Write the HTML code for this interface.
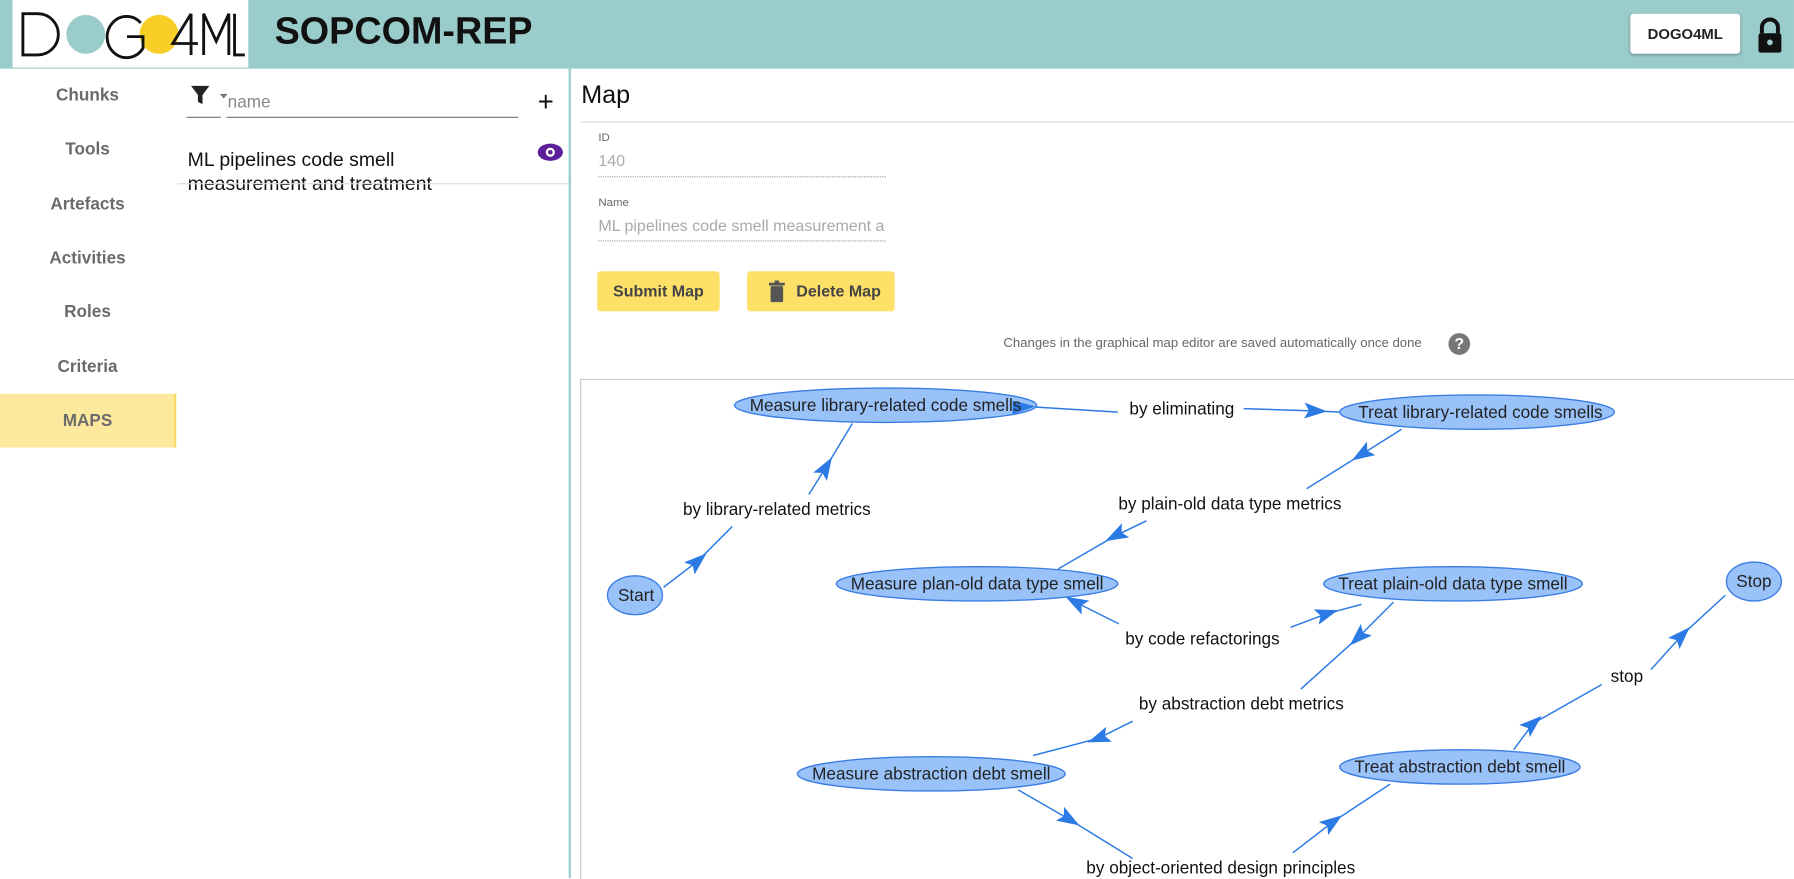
<!DOCTYPE html>
<html><head><meta charset="utf-8"><style>
html,body{margin:0;padding:0;width:1794px;height:878px;overflow:hidden;background:#fff;font-family:"Liberation Sans",sans-serif}
#w{position:absolute;left:0;top:0;width:1568px;height:767px;transform:scale(1.1441,1.1447);transform-origin:0 0}
.a{position:absolute}
.nav{position:absolute;left:0;width:153px;text-align:center;font-size:15px;color:#6b6b6b;font-weight:bold}
</style></head><body><div id="w">
<div class="a" style="left:0;top:0;width:1568px;height:60px;background:#9bcccc"></div>
<div class="a" style="left:11px;top:0;width:206px;height:59px;background:#fff"></div>
<svg class="a" style="left:15px;top:8px" width="200" height="44">
<circle cx="60" cy="22" r="17" fill="#9bcccc"/><circle cx="124" cy="22" r="17" fill="#f7cf26"/>
<g fill="none" stroke="#111" stroke-width="2.5">
<path d="M5 4 V40 H18 A18 18 0 0 0 18 4 Z"/>
<path d="M108 12 A17 18 0 1 0 110 34 V24 H96"/>
<path d="M152 4 L136 30 H158 M152 4 V40"/>
<path d="M163 40 V4 L174 28 L185 4 V40"/>
<path d="M190 4 V40 H199"/>
</g></svg>
<div class="a" style="left:240px;top:8px;font-size:33px;font-weight:bold;color:#111">SOPCOM-REP</div>
<div class="a" style="left:1425px;top:12px;width:96px;height:35px;background:#fff;border-radius:3px;box-shadow:0 1px 3px rgba(0,0,0,.3);font-size:13px;font-weight:bold;line-height:35px;text-align:center;color:#222">DOGO4ML</div>
<svg class="a" style="left:1535px;top:14px" width="24" height="34"><path d="M5 15 V10 a7 7 0 0 1 14 0 V15" stroke="#111" stroke-width="3.5" fill="none"/><rect x="2" y="15" width="20" height="17" rx="2" fill="#111"/><circle cx="12" cy="23" r="2.5" fill="#9bcccc"/></svg>
<div class="nav" style="top:75px">Chunks</div><div class="nav" style="top:122px">Tools</div><div class="nav" style="top:170px">Artefacts</div><div class="nav" style="top:217px">Activities</div><div class="nav" style="top:264px">Roles</div><div class="nav" style="top:312px">Criteria</div>
<div class="a" style="left:0;top:344px;width:152px;height:47px;background:#fde99e;border-right:2px solid #f7d96a"></div>
<div class="nav" style="top:359px">MAPS</div>
<svg class="a" style="left:166px;top:74px" width="40" height="20"><path d="M1 1 H17 L11 9 V17 L7 15 V9 Z" fill="#222"/><path d="M26 8 h7 l-3.5 4z" fill="#777"/></svg>
<div class="a" style="left:163px;top:102px;width:30px;border-top:1px solid #777"></div>
<div class="a" style="left:199px;top:81px;font-size:15px;color:#888">name</div>
<div class="a" style="left:198px;top:102px;width:255px;border-top:1px solid #777"></div>
<div class="a" style="left:470px;top:76px;font-size:24px;color:#111">+</div>
<div class="a" style="left:164px;top:129px;font-size:17px;color:#111;line-height:21px">ML pipelines code smell<br>measurement and treatment</div>
<div class="a" style="left:155px;top:160px;width:342px;border-top:1px solid #ddd"></div>
<svg class="a" style="left:469px;top:124px" width="24" height="18"><ellipse cx="12" cy="9" rx="11" ry="7.5" fill="#5b1f99"/><circle cx="12" cy="9" r="4" fill="#fff"/><circle cx="12" cy="9" r="2" fill="#5b1f99"/></svg>
<div class="a" style="left:497px;top:60px;width:2px;height:707px;background:#9bcccc"></div>
<div class="a" style="left:508px;top:70px;font-size:22px;color:#111">Map</div>
<div class="a" style="left:507px;top:106px;width:1061px;border-top:1px solid #ddd"></div>
<div class="a" style="left:523px;top:115px;font-size:10px;color:#666">ID</div>
<div class="a" style="left:523px;top:132px;font-size:14px;color:#aaa">140</div>
<div class="a" style="left:523px;top:154px;width:251px;border-top:1px dotted #999"></div>
<div class="a" style="left:523px;top:172px;font-size:10px;color:#666">Name</div>
<div class="a" style="left:523px;top:189px;width:251px;overflow:hidden;white-space:nowrap;font-size:14px;color:#aaa">ML pipelines code smell measurement and treatment</div>
<div class="a" style="left:523px;top:210px;width:251px;border-top:1px dotted #999"></div>
<div class="a" style="left:522px;top:237px;width:107px;height:35px;background:#fde068;border-radius:3px;font-size:14px;line-height:35px;text-align:center;color:#444;font-weight:bold">Submit Map</div>
<div class="a" style="left:653px;top:237px;width:129px;height:35px;background:#fde068;border-radius:3px;font-size:14px;line-height:35px;color:#444;font-weight:bold"><svg style="position:absolute;left:19px;top:8px" width="14" height="19"><rect x="0" y="2" width="14" height="2.5" fill="#555"/><rect x="5" y="0" width="4" height="3" fill="#555"/><rect x="1.5" y="5" width="11" height="14" rx="1.5" fill="#555"/></svg><span style="position:absolute;left:43px">Delete Map</span></div>
<div class="a" style="left:877px;top:294px;font-size:11.5px;color:#666">Changes in the graphical map editor are saved automatically once done</div>
<div class="a" style="left:1266px;top:291px;width:19px;height:19px;border-radius:50%;background:#777;color:#fff;font-size:14px;font-weight:bold;text-align:center;line-height:19px">?</div>
<div class="a" style="left:507px;top:331px;width:1061px;height:436px;border-top:1px solid #ccc;border-left:1px solid #ccc"></div>
<svg class="a" style="left:0;top:0" width="1568" height="767" font-family="Liberation Sans" font-size="15">
<defs><marker id="m" markerWidth="20" markerHeight="14" refX="10" refY="7" orient="auto" markerUnits="userSpaceOnUse"><path d="M0 0 L20 7 L0 14 L4 7Z" fill="#2c7be5"/></marker></defs>
<g stroke="#2c7be5" stroke-width="1.3" fill="none" marker-mid="url(#m)">
<path d="M580 513 L610 490 L640 460"/>
<path d="M707 432 L722 408 L745 370"/>
<path d="M870 355 L895 355 L977 360"/>
<path d="M1087 357 L1150 359 L1172 360"/>
<path d="M1225 375 L1190 397 L1142 427"/>
<path d="M1002 455 L975 468 L925 497"/>
<path d="M978 545 L940 526 L930 520"/>
<path d="M1128 548 L1160 536 L1190 528"/>
<path d="M1218 526 L1187 557 L1137 602"/>
<path d="M990 630 L960 645 L903 660"/>
<path d="M890 690 L935 716 L990 750"/>
<path d="M1130 745 L1165 718 L1215 685"/>
<path d="M1323 655 L1340 632 L1400 598"/>
<path d="M1443 585 L1470 555 L1508 520"/>
</g>
<g fill="#99c2f9" stroke="#3b7de4" stroke-width="1.2">
<ellipse cx="774" cy="354" rx="132" ry="15"/><ellipse cx="1291" cy="360" rx="120" ry="15"/>
<ellipse cx="555" cy="520" rx="24" ry="17"/><ellipse cx="854" cy="510" rx="123" ry="15"/>
<ellipse cx="1270" cy="510" rx="113" ry="15"/><ellipse cx="1533" cy="508" rx="24" ry="17"/>
<ellipse cx="814" cy="676" rx="117" ry="15"/><ellipse cx="1276" cy="670" rx="105" ry="15"/>
</g>
<path d="M885 350 L905 355 L885 362Z" fill="#2c7be5"/>
<g fill="#222" text-anchor="middle">
<text x="774" y="359">Measure library-related code smells</text><text x="1294" y="365">Treat library-related code smells</text>
<text x="556" y="525">Start</text><text x="854" y="515">Measure plan-old data type smell</text>
<text x="1270" y="515">Treat plain-old data type smell</text><text x="1533" y="513">Stop</text>
<text x="814" y="681">Measure abstraction debt smell</text><text x="1276" y="675">Treat abstraction debt smell</text>
</g>
<g fill="#111" text-anchor="middle">
<text x="1033" y="362">by eliminating</text><text x="679" y="450">by library-related metrics</text>
<text x="1075" y="445">by plain-old data type metrics</text><text x="1051" y="563">by code refactorings</text>
<text x="1085" y="620">by abstraction debt metrics</text><text x="1422" y="596">stop</text>
<text x="1067" y="763">by object-oriented design principles</text>
</g></svg>
<div class="a" style="left:-9999px;top:0">DOGO4ML</div>
</div></body></html>
